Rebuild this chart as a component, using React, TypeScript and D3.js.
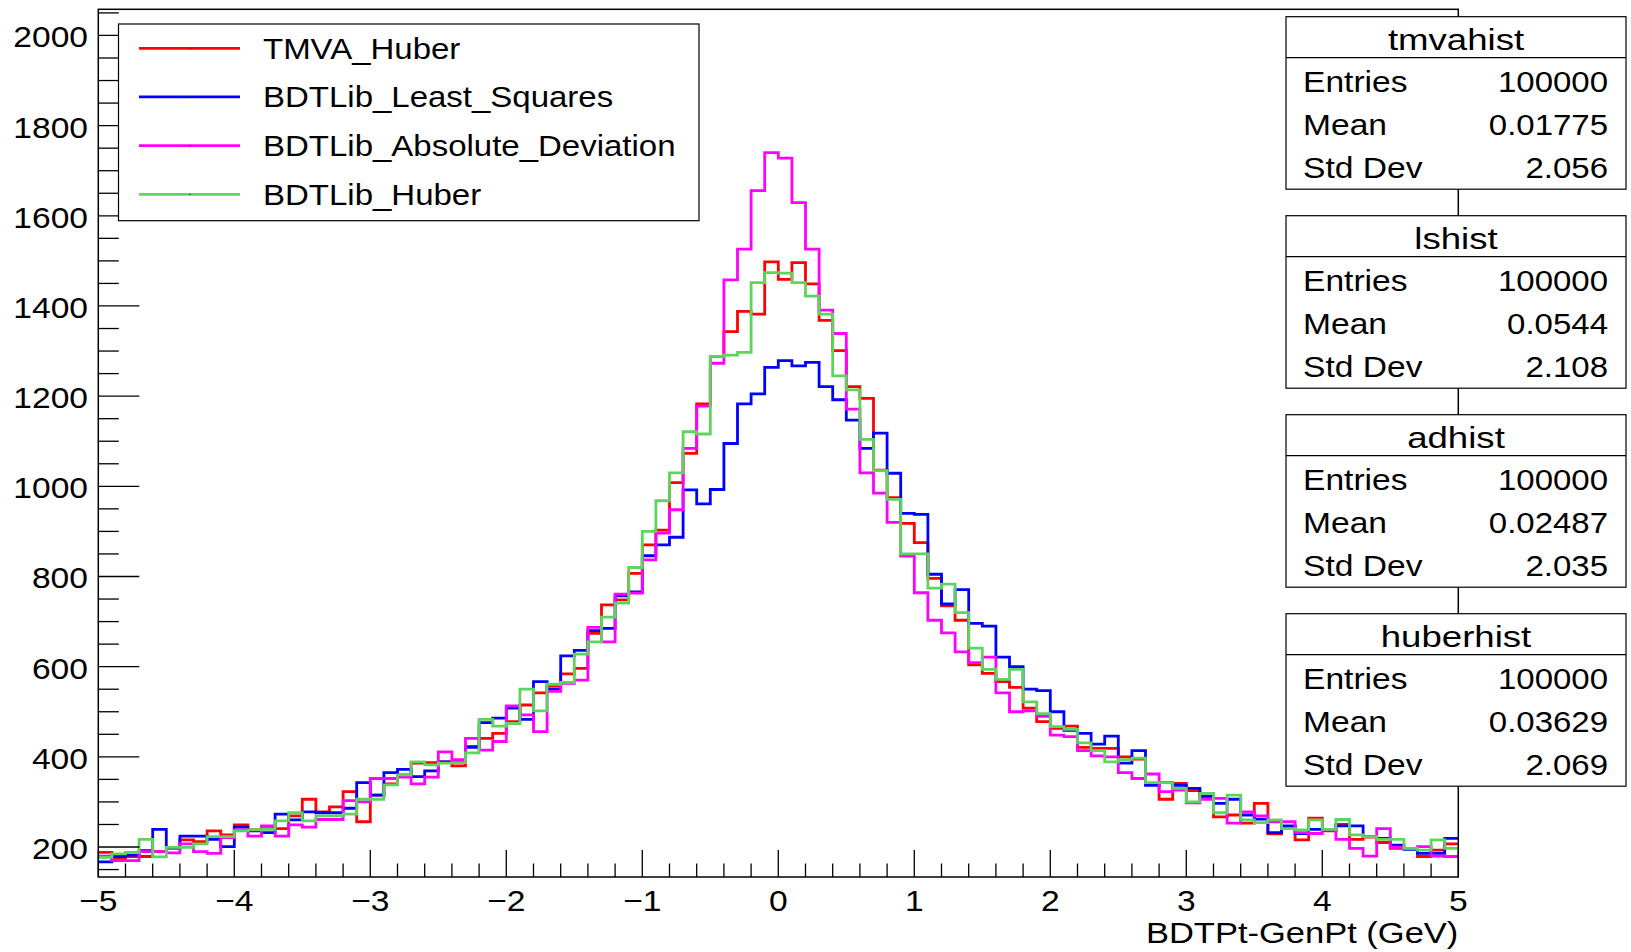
import React, { useEffect, useRef } from 'react';
import * as d3 from 'd3';

// 100 bins from -5 to 5
const binLow = -5;
const binHigh = 5;

const tmvaHuber = [
  188, 175, 179, 179, 190, 197, 216, 212, 236, 227,
  249, 238, 241, 241, 269, 306, 278, 289, 323, 256,
  315, 340, 360, 386, 387, 389, 380, 423, 441, 452,
  478, 515, 542, 557, 584, 596, 674, 737, 748, 807,
  870, 903, 1008, 1073, 1183, 1288, 1343, 1388, 1382, 1498,
  1459, 1496, 1449, 1368, 1301, 1221, 1195, 1036, 975, 918,
  875, 796, 735, 703, 604, 585, 567, 554, 508, 478,
  463, 468, 421, 419, 419, 400, 395, 341, 306, 341,
  325, 308, 267, 271, 253, 297, 229, 245, 216, 264,
  236, 250, 217, 222, 210, 197, 197, 179, 193, 207,
];

const leastSquares = [
  167, 179, 182, 192, 239, 199, 224, 224, 217, 201,
  244, 236, 232, 273, 260, 278, 276, 276, 286, 343,
  315, 365, 372, 356, 369, 389, 389, 421, 476, 486,
  508, 483, 567, 550, 624, 636, 680, 685, 757, 766,
  846, 870, 887, 992, 961, 993, 1095, 1183, 1205, 1264,
  1279, 1267, 1275, 1221, 1192, 1147, 1084, 1118, 1029, 940,
  938, 805, 739, 771, 696, 690, 621, 600, 550, 547,
  500, 459, 452, 428, 446, 386, 414, 337, 343, 337,
  330, 313, 297, 306, 271, 262, 232, 247, 230, 239,
  238, 247, 247, 223, 219, 204, 195, 186, 186, 219,
];

const absDeviation = [
  180, 170, 170, 190, 190, 187, 207, 190, 186, 221,
  238, 224, 247, 224, 249, 244, 261, 261, 303, 300,
  352, 352, 355, 340, 355, 411, 394, 441, 415, 434,
  513, 493, 456, 545, 563, 570, 687, 655, 761, 763,
  837, 896, 948, 1084, 1178, 1273, 1458, 1526, 1656, 1740,
  1728, 1629, 1526, 1391, 1339, 1171, 1030, 985, 920, 845,
  764, 703, 675, 633, 609, 621, 542, 500, 502, 490,
  448, 445, 414, 402, 400, 365, 352, 362, 323, 326,
  298, 306, 308, 253, 278, 269, 256, 256, 232, 230,
  238, 217, 197, 180, 241, 199, 197, 201, 180, 179,
];

const bdtHuber = [
  177, 185, 188, 217, 178, 199, 199, 207, 223, 223,
  236, 238, 239, 258, 276, 258, 269, 269, 273, 306,
  306, 338, 360, 389, 382, 386, 387, 409, 483, 468,
  474, 550, 502, 561, 565, 628, 655, 710, 741, 820,
  900, 968, 1030, 1121, 1116, 1288, 1291, 1297, 1452, 1474,
  1473, 1452, 1422, 1382, 1245, 1214, 1104, 1035, 971, 850,
  850, 774, 783, 720, 641, 594, 572, 594, 522, 496,
  467, 461, 431, 414, 389, 394, 397, 343, 343, 330,
  300, 319, 276, 315, 260, 254, 260, 241, 238, 260,
  239, 261, 227, 223, 217, 217, 197, 193, 216, 197,
];

const seriesNames = ['TMVA_Huber', 'BDTLib_Least_Squares', 'BDTLib_Absolute_Deviation', 'BDTLib_Huber'];
const seriesValues = [tmvaHuber, leastSquares, absDeviation, bdtHuber];
const seriesColors = ['#ff0000', '#0000ff', '#ff00ff', '#5ed35e'];

const statTitles = ['tmvahist', 'lshist', 'adhist', 'huberhist'];
const statEntries = ['100000', '100000', '100000', '100000'];
const statMeans = ['0.01775', '0.0544', '0.02487', '0.03629'];
const statStdDevs = ['2.056', '2.108', '2.035', '2.069'];

const xTickValues = [-5, -4, -3, -2, -1, 0, 1, 2, 3, 4, 5];
const yTickValues = [200, 400, 600, 800, 1000, 1200, 1400, 1600, 1800, 2000];
const xTitle = 'BDTPt-GenPt (GeV)';

const W = 1631;
const H = 952;
const FONT = '"Liberation Sans", Arial, Helvetica, sans-serif';

const App = () => {
  const svgRef = useRef<SVGSVGElement | null>(null);

  useEffect(() => {
    const frame = { left: 98.3, right: 1458.3, top: 9.3, bottom: 877 };

    const svg = d3.select(svgRef.current)
      .attr('width', W)
      .attr('height', H)
      .style('background', '#fff')
      .style('font-family', FONT);

    svg.selectAll('*').remove();

    const x = d3.scaleLinear().domain([binLow, binHigh]).range([frame.left, frame.right]);
    const y = d3.scaleLinear().domain([133.5, 2058]).range([frame.bottom, frame.top]);

    // stretched helvetica-ish text like the root canvas
    const label = (g: any, px: number, py: number, s: string, anchor: string, size = 30, sx = 1.1) => {
      g.append('text')
        .attr('transform', `translate(${px},${py}) scale(${sx},1)`)
        .attr('text-anchor', anchor)
        .attr('font-size', size)
        .attr('fill', '#000')
        .text(s);
    };

    // clip for histograms
    svg.append('clipPath').attr('id', 'frameClip')
      .append('rect')
      .attr('x', frame.left).attr('y', frame.top)
      .attr('width', frame.right - frame.left).attr('height', frame.bottom - frame.top);

    // histograms
    const nBins = tmvaHuber.length;
    const binW = (binHigh - binLow) / nBins;
    const line = d3.line<[number, number]>()
      .x(d => x(d[0]))
      .y(d => y(d[1]))
      .curve(d3.curveStepAfter);

    const hg = svg.append('g').attr('clip-path', 'url(#frameClip)');
    seriesValues.forEach((vals, si) => {
      const pts: [number, number][] = vals.map((v, i) => [binLow + i * binW, v]);
      pts.push([binHigh, vals[vals.length - 1]]);
      hg.append('path')
        .attr('d', line(pts))
        .attr('fill', 'none')
        .attr('stroke', seriesColors[si])
        .attr('stroke-width', 2.8)
        .attr('stroke-linejoin', 'miter');
    });

    // frame
    svg.append('rect')
      .attr('x', frame.left).attr('y', frame.top)
      .attr('width', frame.right - frame.left).attr('height', frame.bottom - frame.top)
      .attr('fill', 'none')
      .attr('stroke', '#000')
      .attr('stroke-width', 1.5);

    // x axis ticks
    const ax = svg.append('g').attr('stroke', '#000').attr('stroke-width', 1.3);
    d3.range(binLow * 5, binHigh * 5 + 1).forEach(k => {
      const xv = k / 5;
      const major = k % 5 === 0;
      ax.append('line')
        .attr('x1', x(xv)).attr('x2', x(xv))
        .attr('y1', frame.bottom).attr('y2', frame.bottom - (major ? 27 : 13.5));
    });
    // y axis ticks
    d3.range(150, 2051, 50).forEach(v => {
      const major = v % 200 === 0;
      ax.append('line')
        .attr('x1', frame.left).attr('x2', frame.left + (major ? 41 : 20.5))
        .attr('y1', y(v)).attr('y2', y(v));
    });

    const tg = svg.append('g');
    xTickValues.forEach(v => {
      label(tg, x(v), 911, v < 0 ? `\u2212${-v}` : `${v}`, 'middle', 30, 1.12);
    });
    yTickValues.forEach(v => {
      label(tg, 88, y(v) + 12, `${v}`, 'end', 30, 1.12);
    });
    label(tg, frame.right, 943, xTitle, 'end', 30, 1.15);

    // legend
    const leg = { x: 118.5, y: 24, w: 580.5, h: 196.7 };
    const lg = svg.append('g');
    lg.append('rect')
      .attr('x', leg.x).attr('y', leg.y).attr('width', leg.w).attr('height', leg.h)
      .attr('fill', '#fff').attr('stroke', '#000').attr('stroke-width', 1.2);
    const legY = d3.scaleLinear().domain([0, 3]).range([48.3, 194.3]);
    seriesNames.forEach((name, i) => {
      lg.append('line')
        .attr('x1', 139).attr('x2', 240)
        .attr('y1', legY(i)).attr('y2', legY(i))
        .attr('stroke', seriesColors[i]).attr('stroke-width', 2.8);
      lg.append('rect')
        .attr('x', 189.5).attr('y', legY(i) - 0.5).attr('width', 1).attr('height', 1)
        .attr('fill', '#000');
      label(lg, 263, legY(i) + 10.5, name, 'start', 30, 1.1);
    });

    // stat boxes
    const sg = svg.append('g');
    statTitles.forEach((title, k) => {
      const bx = 1286;
      const bw = 340;
      const by = 16.7 + 199 * k;
      const bh = 172.5;
      sg.append('rect')
        .attr('x', bx).attr('y', by).attr('width', bw).attr('height', bh)
        .attr('fill', '#fff').attr('stroke', '#000').attr('stroke-width', 1.2);
      sg.append('line')
        .attr('x1', bx).attr('x2', bx + bw)
        .attr('y1', by + 41).attr('y2', by + 41)
        .attr('stroke', '#000').attr('stroke-width', 1.2);
      label(sg, bx + bw / 2, by + 33, title, 'middle', 30, 1.22);
      const rows: [string, string][] = [
        ['Entries', statEntries[k]],
        ['Mean', statMeans[k]],
        ['Std Dev', statStdDevs[k]],
      ];
      rows.forEach((r, j) => {
        const ry = by + 75 + j * 43.2;
        label(sg, bx + 17, ry, r[0], 'start', 30, 1.12);
        label(sg, bx + 322, ry, r[1], 'end', 30, 1.1);
      });
    });
  }, []);

  return (
    <div style={{ position: 'absolute', left: 0, top: 0 }}>
      <svg ref={svgRef}></svg>
    </div>
  );
};

export default App;
